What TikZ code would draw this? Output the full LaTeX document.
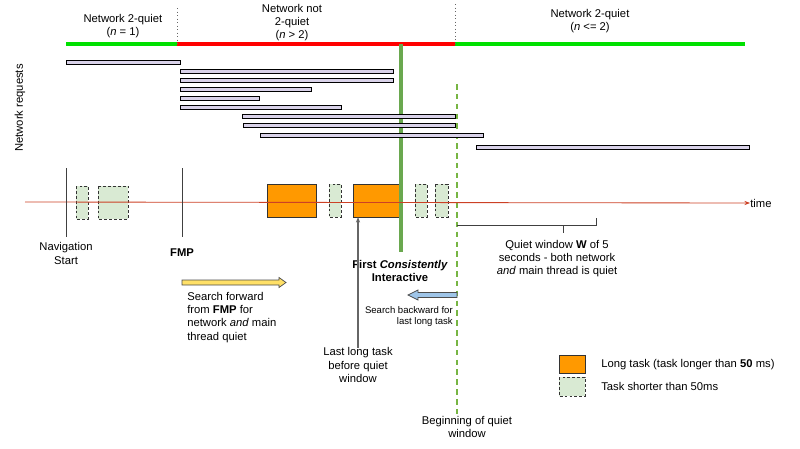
\documentclass[tikz,border=0pt]{standalone}
\usepackage{fontspec}
\setmainfont{Liberation Sans}
\usetikzlibrary{arrows.meta}
\definecolor{quietgreen}{HTML}{00E000}
\definecolor{busyred}{HTML}{FF0000}
\definecolor{cigreen}{HTML}{6AA84F}
\definecolor{reqfill}{HTML}{D9D2E9}
\definecolor{ltorange}{HTML}{FF9900}
\definecolor{stgreen}{HTML}{D9EAD3}
\definecolor{timered}{HTML}{CC4125}
\definecolor{fwdyellow}{HTML}{FFE066}
\definecolor{bwdblue}{HTML}{9FC5E8}
\tikzstyle{lbl}=[inner sep=0pt, align=center, font=\fontsize{8}{9.3}\selectfont]
\tikzstyle{smalllbl}=[inner sep=0pt, align=right, font=\fontsize{6.8}{7.8}\selectfont]
\tikzstyle{netok}=[draw=quietgreen, line width=3pt]
\tikzstyle{netbusy}=[draw=busyred, line width=3pt]
\tikzstyle{sep}=[draw=black!60, dotted, line width=0.5pt]
\tikzstyle{req}=[draw=black, fill=reqfill, line width=0.6pt]
\tikzstyle{longtask}=[draw=black!80, fill=ltorange, line width=0.7pt]
\tikzstyle{shorttask}=[draw=black!80, fill=stgreen, line width=0.6pt, dash pattern=on 2pt off 1.5pt]
\tikzstyle{tick}=[draw=black!75, line width=0.7pt]

\begin{document}
\begin{tikzpicture}[x=0.025cm, y=-0.025cm]
      \useasboundingbox (0,0) rectangle (800,448);

      % network state along the top
      \coordinate (q1s) at (66,44);
      \coordinate (q1e) at (177,44);
      \coordinate (q2e) at (455,44);
      \coordinate (q3e) at (745,44);
      \coordinate (s1) at (177,8);
      \coordinate (s2) at (455,4);

      \draw[netok] (q1s) -- (q1e);
      \draw[netbusy] (q1e) -- (q2e);
      \draw[netok] (q2e) -- (q3e);
      \draw[sep] (s1) -- (q1e);
      \draw[sep] (s2) -- (q2e);

      \node[lbl] (n1) at (123,26) {Network 2-quiet\\(\textit{n} = 1)};
      \node[lbl] (n2) at (292,23) {Network not\\2-quiet\\(\textit{n} > 2)};
      \node[lbl] (n3) at (590,21.5) {Network 2-quiet\\(\textit{n} <= 2)};

      \node[lbl, rotate=90] (reqs) at (20,108) {Network requests};

      % tasks on the main thread
      \draw[shorttask] (76,186) rectangle (88,219);
      \draw[shorttask] (98,186) rectangle (128,219);
      \draw[longtask] (267,184) rectangle (316,217);
      \draw[shorttask] (329,184) rectangle (341,217);
      \draw[longtask] (353,184) rectangle (401,217);
      \draw[shorttask] (415,184) rectangle (427,217);
      \draw[shorttask] (435,184) rectangle (448,217);

      % first consistently interactive and quiet window start
      \coordinate (ci1) at (401,44);
      \coordinate (ci2) at (401,252);
      \coordinate (bq1) at (457,84);
      \coordinate (bq2) at (457,418);
      \draw[draw=cigreen, line width=2.2pt] (ci1) -- (ci2);
      \draw[draw=cigreen!85!lime, line width=1pt, dash pattern=on 4pt off 3pt] (bq1) -- (bq2);

      % requests
      \draw[req] (66,60) rectangle (180,64);
      \draw[req] (180,69) rectangle (393,73);
      \draw[req] (180,78) rectangle (393,82);
      \draw[req] (180,87) rectangle (311,91);
      \draw[req] (180,96) rectangle (259,100);
      \draw[req] (180,105) rectangle (341,109);
      \draw[req] (242,114) rectangle (455,118);
      \draw[req] (243,123) rectangle (455,127);
      \draw[req] (260,133) rectangle (483,137);
      \draw[req] (476,145) rectangle (749,149);

      % time axis
      \coordinate (t0) at (25,202);
      \node[lbl, anchor=west] (time) at (750,203) {time};
      \draw[draw=timered, line width=0.6pt, -{Stealth[length=4pt, width=3pt]}] (t0) -- (time.west);

      \coordinate (ns1) at (66,168);
      \coordinate (ns2) at (66,237);
      \coordinate (fm1) at (182,168);
      \coordinate (fm2) at (182,237);
      \draw[tick] (ns1) -- (ns2);
      \draw[tick] (fm1) -- (fm2);

      \node[lbl] (navstart) at (66,253.5) {Navigation\\Start};
      \node[lbl] (fmp) at (182,253) {\textbf{FMP}};
      \node[lbl] (fci) at (400,271) {\textbf{First \textit{Consistently}}\\\textbf{Interactive}};

      % quiet window
      \coordinate (w0) at (457,225);
      \coordinate (w1) at (596,225);
      \coordinate (w2) at (596,218);
      \coordinate (wm) at (563,225);
      \coordinate (wt) at (563,233);
      \draw[tick] (w0) -- (w1) -- (w2);
      \draw[tick] (wm) -- (wt);
      \node[lbl] (qw) at (557,258.5) {Quiet window \textbf{W} of 5\\seconds - both network\\\textit{and} main thread is quiet};

      % searches
      \draw[draw=black!70, fill=fwdyellow, line width=0.5pt]
        (182,280) -- (279,280) -- (279,277.5) -- (286,282.5) -- (279,287.5) -- (279,285) -- (182,285) -- cycle;
      \node[lbl, anchor=west, align=left] (fwd) at (187,317.5) {Search forward\\from \textbf{FMP} for\\network \textit{and} main\\thread quiet};

      \draw[draw=black!70, fill=bwdblue, line width=0.5pt]
        (457,292.5) -- (418,292.5) -- (418,290) -- (408,295) -- (418,300) -- (418,297.5) -- (457,297.5) -- cycle;
      \node[smalllbl, anchor=east] (bwd) at (453,316.5) {Search backward for\\last long task};

      \coordinate (lastlt) at (358,217);
      \node[lbl] (lastlbl) at (358,365) {Last long task\\before quiet\\window};
      \draw[draw=black!60, line width=0.9pt, -{Stealth[length=4pt, width=3pt]}] (lastlbl.north) -- (lastlt);

      \node[lbl] (begin) at (467,427) {Beginning of quiet\\window};

      % legend
      \draw[longtask] (559,355) rectangle (585,373);
      \draw[shorttask] (559,377) rectangle (585,396);
      \node[lbl, anchor=west] (leglong) at (601,365) {Long task (task longer than \textbf{50} ms)};
      \node[lbl, anchor=west] (legshort) at (601,386) {Task shorter than 50ms};
\end{tikzpicture}
\end{document}
